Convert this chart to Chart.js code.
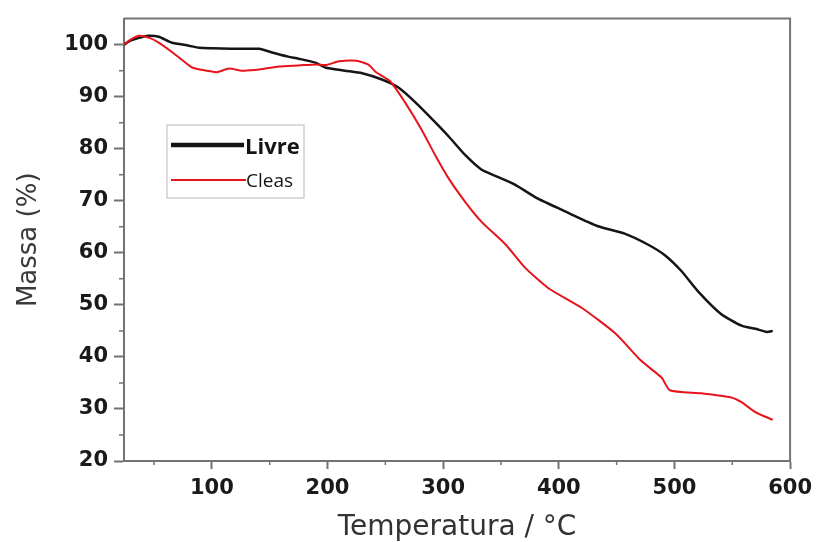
<!DOCTYPE html>
<html>
<head>
<meta charset="utf-8">
<script src="https://cdn.jsdelivr.net/npm/chart.js@4/dist/chart.umd.min.js"></script>
<style>
  html, body { margin: 0; padding: 0; background: #ffffff; }
  #c { display: block; }
</style>
</head>
<body>
<canvas id="c" width="819" height="542"></canvas>
<script>
// ---- Data ----
const tempLivre = [24, 30, 37, 45, 54, 65, 80, 89, 100, 117, 130, 141, 152, 166, 175, 190, 198, 215, 230, 247, 261, 276, 293, 305, 319, 333, 345, 362, 382, 406, 434, 457, 477, 492, 506, 520, 540, 558, 570, 580, 585];
const massLivre = [100, 100.8, 101.3, 101.7, 101.5, 100.4, 99.8, 99.4, 99.3, 99.2, 99.2, 99.2, 98.5, 97.7, 97.3, 96.5, 95.6, 95.0, 94.5, 93.3, 91.8, 88.9, 85.1, 82.3, 78.8, 76.0, 74.8, 73.1, 70.4, 67.9, 65.1, 63.7, 61.6, 59.5, 56.5, 52.7, 48.3, 46.0, 45.4, 44.8, 45.0];

const tempCleas = [24, 30, 37, 46, 54, 66, 74, 83, 95, 104, 115, 126, 141, 158, 175, 190, 199, 210, 225, 235, 242, 254, 267, 281, 293, 305, 319, 333, 354, 371, 391, 420, 449, 471, 489, 496, 523, 549, 558, 570, 585];
const massCleas = [100, 101, 101.7, 101.3, 100.4, 98.5, 97.1, 95.6, 95.0, 94.7, 95.4, 95.0, 95.2, 95.8, 96.0, 96.2, 96.1, 96.8, 96.9, 96.2, 94.7, 93.0, 88.9, 83.8, 78.8, 74.2, 69.8, 66.0, 61.6, 57.1, 53.2, 49.4, 44.5, 39.3, 36.0, 33.6, 33.0, 32.2, 31.3, 29.4, 27.9];

const xTickValues = [100, 200, 300, 400, 500, 600];
const yTickValues = [20, 30, 40, 50, 60, 70, 80, 90, 100];
const xMinorValues = [50, 150, 250, 350, 450, 550];
const yMinorValues = [25, 35, 45, 55, 65, 75, 85, 95];

const seriesNames = ['Livre', 'Cleas'];
const axisTitles = { x: 'Temperatura / °C', y: 'Massa (%)' };

const AXIS = '#737373';

const toPoints = (xs, ys) => xs.map((x, i) => ({ x: x, y: ys[i] }));

const framePlugin = {
  id: 'frame',
  afterDraw(chart) {
    const { ctx, chartArea: a, scales } = chart;
    ctx.save();
    ctx.strokeStyle = AXIS;
    ctx.lineWidth = 2;
    ctx.beginPath();
    ctx.moveTo(a.left, a.top);
    ctx.lineTo(a.right, a.top);
    ctx.lineTo(a.right, a.bottom);
    ctx.stroke();
    // minor ticks
    ctx.lineWidth = 1.5;
    ctx.beginPath();
    xMinorValues.forEach(v => {
      const px = scales.x.getPixelForValue(v);
      ctx.moveTo(px, a.bottom);
      ctx.lineTo(px, a.bottom + 4);
    });
    yMinorValues.forEach(v => {
      const py = scales.y.getPixelForValue(v);
      ctx.moveTo(a.left, py);
      ctx.lineTo(a.left - 5, py);
    });
    ctx.stroke();
    ctx.restore();
  }
};

const legendPlugin = {
  id: 'boxLegend',
  afterDraw(chart) {
    const { ctx } = chart;
    ctx.save();
    ctx.fillStyle = '#ffffff';
    ctx.fillRect(167, 125, 137, 73);
    ctx.strokeStyle = '#cfcfcf';
    ctx.lineWidth = 1.5;
    ctx.strokeRect(167, 125, 137, 73);
    // Livre
    ctx.strokeStyle = '#141414';
    ctx.lineWidth = 4.5;
    ctx.beginPath();
    ctx.moveTo(171, 145);
    ctx.lineTo(244, 145);
    ctx.stroke();
    ctx.fillStyle = '#141414';
    ctx.font = 'bold 22px "Open Sans"';
    ctx.textBaseline = 'alphabetic';
    ctx.textAlign = 'left';
    ctx.fillText(seriesNames[0], 245, 154);
    // Cleas
    ctx.strokeStyle = '#e8141c';
    ctx.lineWidth = 2;
    ctx.beginPath();
    ctx.moveTo(171, 180);
    ctx.lineTo(246, 180);
    ctx.stroke();
    ctx.font = '19px "Open Sans"';
    ctx.fillText(seriesNames[1], 246, 187);
    ctx.restore();
  }
};

const tickFont = { family: '"DejaVu Sans"', size: 21, weight: 'bold' };

new Chart(document.getElementById('c'), {
  type: 'line',
  data: {
    datasets: [
      {
        label: seriesNames[0],
        data: toPoints(tempLivre, massLivre),
        borderColor: '#151515',
        borderWidth: 2.5,
        pointRadius: 0,
        tension: 0.2,
        order: 1
      },
      {
        label: seriesNames[1],
        data: toPoints(tempCleas, massCleas),
        borderColor: '#e8141c',
        borderWidth: 2,
        pointRadius: 0,
        tension: 0.2,
        order: 0
      }
    ]
  },
  options: {
    responsive: false,
    devicePixelRatio: 1,
    animation: false,
    layout: { padding: { top: 15, right: 27, left: 0, bottom: 0 } },
    plugins: {
      legend: { display: false },
      tooltip: { enabled: false }
    },
    scales: {
      x: {
        type: 'linear',
        min: 24,
        max: 600,
        afterBuildTicks(scale) { scale.ticks = xTickValues.map(v => ({ value: v })); },
        afterFit(scale) { scale.height = 81; },
        grid: { drawOnChartArea: false, drawTicks: true, tickLength: 8, tickColor: AXIS, tickWidth: 2 },
        border: { display: true, color: AXIS, width: 2 },
        ticks: { color: '#1a1a1a', font: tickFont, padding: 7, maxRotation: 0 },
        title: {
          display: true,
          text: axisTitles.x,
          color: '#333333',
          font: { family: '"DejaVu Sans"', size: 28, lineHeight: 1 },
          padding: { top: 0, bottom: 0 }
        }
      },
      y: {
        type: 'linear',
        min: 20,
        max: 105,
        afterBuildTicks(scale) { scale.ticks = yTickValues.map(v => ({ value: v })); },
        afterFit(scale) { scale.width = 124; },
        grid: { drawOnChartArea: false, drawTicks: true, tickLength: 10, tickColor: AXIS, tickWidth: 2 },
        border: { display: true, color: AXIS, width: 2 },
        ticks: { color: '#1a1a1a', font: tickFont, padding: 6 },
        title: {
          display: true,
          text: axisTitles.y,
          color: '#3a3a3a',
          font: { family: '"DejaVu Sans"', size: 26, lineHeight: 1 },
          padding: { top: 16, bottom: 0 }
        }
      }
    }
  },
  plugins: [framePlugin, legendPlugin]
});
</script>
</body>
</html>
